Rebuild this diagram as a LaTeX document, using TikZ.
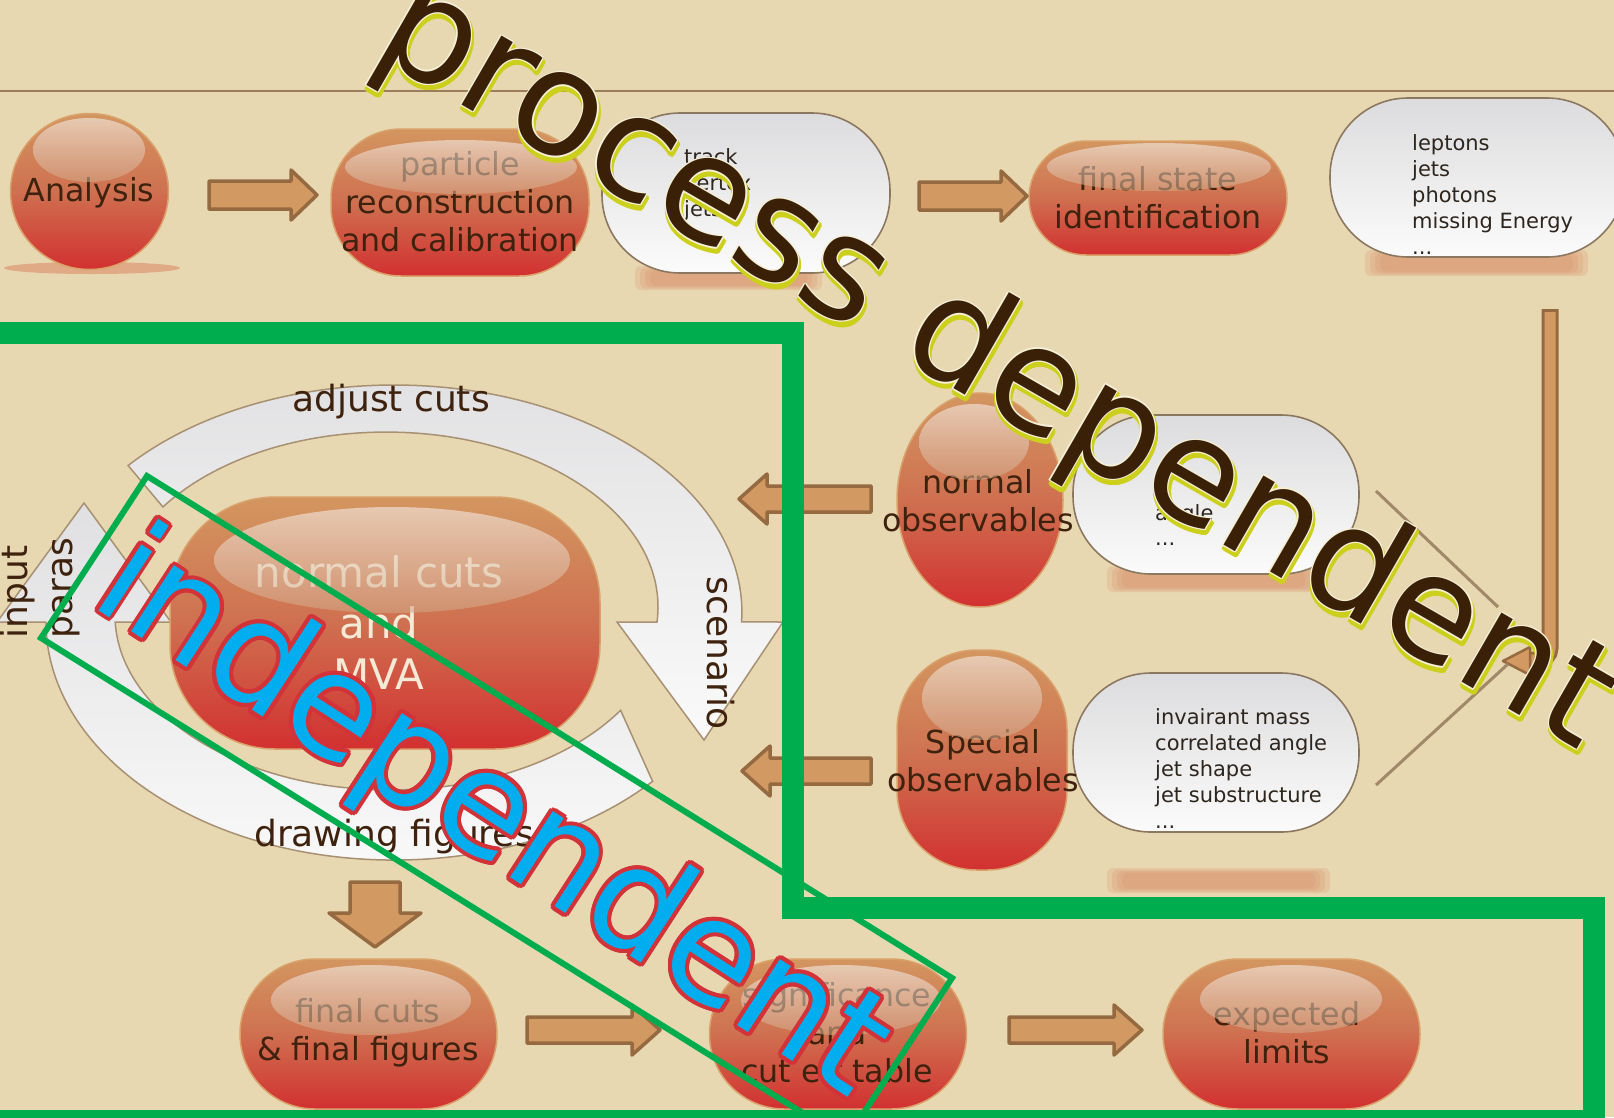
\documentclass[tikz,border=0pt]{standalone}
\usepackage{fontspec}
\setmainfont{DejaVu Sans}
\usetikzlibrary{shapes.geometric,calc}

\definecolor{bg}{RGB}{231,216,178}
\definecolor{rulecol}{RGB}{156,126,90}
\definecolor{nodetop}{RGB}{211,150,96}
\definecolor{nodemid}{RGB}{207,112,80}
\definecolor{nodebot}{RGB}{210,48,48}
\definecolor{nodeedge}{RGB}{218,162,106}
\definecolor{glosstop}{RGB}{246,240,236}
\definecolor{glossbot}{RGB}{210,166,132}
\definecolor{ink}{RGB}{62,34,14}
\definecolor{bubink}{RGB}{46,38,30}
\definecolor{bubtop}{RGB}{220,220,222}
\definecolor{bubbot}{RGB}{251,251,251}
\definecolor{bubedge}{RGB}{140,120,96}
\definecolor{ringtop}{RGB}{224,224,226}
\definecolor{ringbot}{RGB}{250,250,250}
\definecolor{ringedge}{RGB}{168,144,114}
\definecolor{arrfill}{RGB}{210,154,98}
\definecolor{arredge}{RGB}{150,106,64}
\definecolor{lincol}{RGB}{160,136,104}
\definecolor{grn}{RGB}{0,173,78}
\definecolor{shadowcol}{RGB}{218,140,104}
\definecolor{mvaink}{RGB}{244,234,214}
\definecolor{pdink}{RGB}{58,32,6}
\definecolor{pdglow}{RGB}{204,208,28}
\definecolor{pdrim}{RGB}{246,240,214}
\definecolor{indfill}{RGB}{0,174,239}
\definecolor{indedge}{RGB}{210,50,56}

% block arrows: right / left / down
\newcommand{\rightblock}[6]{% xtail xtip yc shafthalf headhalf headlen
  \draw[barrow] (#1,{#3-#4}) -- ({#2-#6},{#3-#4}) -- ({#2-#6},{#3-#5}) -- (#2,#3)
    -- ({#2-#6},{#3+#5}) -- ({#2-#6},{#3+#4}) -- (#1,{#3+#4}) -- cycle;}
\newcommand{\leftblock}[6]{% xtip xtail yc shafthalf headhalf headlen
  \draw[barrow] (#2,{#3-#4}) -- ({#1+#6},{#3-#4}) -- ({#1+#6},{#3-#5}) -- (#1,#3)
    -- ({#1+#6},{#3+#5}) -- ({#1+#6},{#3+#4}) -- (#2,{#3+#4}) -- cycle;}
\newcommand{\downblock}[6]{% xc ytail ytip shafthalf headhalf headlen
  \draw[barrow] ({#1-#4},#2) -- ({#1-#4},{#3-#6}) -- ({#1-#5},{#3-#6}) -- (#1,#3)
    -- ({#1+#5},{#3-#6}) -- ({#1+#4},{#3-#6}) -- ({#1+#4},#2) -- cycle;}
% soft reflection bar under a bubble
\newcommand{\softbar}[4]{%
  \foreach \i in {0,...,3}
    \fill[shadowcol, opacity=0.22, rounded corners=6pt]
      ({#1+5*\i},{#2+1.5*\i}) rectangle ({#3-5*\i},{#4-1.5*\i});}

\begin{document}
\begin{tikzpicture}[x=1pt,y=-1pt,
  redblob/.style={draw=nodeedge, line width=1.5pt, top color=nodetop,
    bottom color=nodebot, middle color=nodemid, inner sep=0pt},
  gloss/.style={top color=glosstop, bottom color=glossbot, fill opacity=0.58},
  bubble/.style={rectangle, draw=bubedge, line width=1.6pt, top color=bubtop,
    bottom color=bubbot, rounded corners=78pt, inner sep=0pt},
  lbl/.style={font=\fontsize{31.7}{38}\selectfont, text=ink, align=center, inner sep=0pt},
  bubtxt/.style={font=\fontsize{21}{25.8}\selectfont, text=bubink, align=left,
    inner sep=0pt, anchor=west},
  ringlbl/.style={font=\fontsize{36}{40}\selectfont, text=ink, inner sep=0pt},
  barrow/.style={fill=arrfill, draw=arredge, line width=3.5pt, line join=round},
  ring/.style={top color=ringtop, bottom color=ringbot, draw=ringedge, line width=1.5pt},
  connline/.style={draw=lincol, line width=3pt},
  bigframe/.style={draw=grn, line width=22pt},
  thinframe/.style={draw=grn, line width=6pt, line join=miter},
  pdtext/.style={font=\fontsize{146}{146}\selectfont, anchor=base west, rotate=-30, inner sep=0pt},
  indtext/.style={font=\fontsize{144}{144}\selectfont, anchor=base west, rotate=-33, inner sep=0pt}]

\useasboundingbox (0,0) rectangle (1614,1117);
\clip (0,0) rectangle (1614,1117);
\fill[bg] (0,0) rectangle (1614,1117);
\draw[rulecol, line width=1.5pt] (0,91) -- (1614,91);

% reflections below the bubbles
\fill[shadowcol, opacity=0.6] (92,268) ellipse [x radius=88, y radius=6];
\softbar{635}{266}{822}{290}
\softbar{1365}{250}{1588}{276}
\softbar{1107}{566}{1320}{592}
\softbar{1107}{868}{1330}{893}

% white bubbles
\node[bubble, minimum width=288pt, minimum height=160pt] (trk) at (746,193) {};
\node[bubtxt] (trkt) at (684,184.5) {track\\vertex\\jets};
\node[bubble, minimum width=295pt, minimum height=159pt] (lep) at (1477.5,177.5) {};
\node[bubtxt] (lept) at (1412,194.5) {leptons\\jets\\photons\\missing Energy\\...};
\node[bubble, minimum width=286pt, minimum height=159pt] (nbub) at (1216,494.5) {};
\node[bubtxt] (nbubt) at (1155,525) {angle\\...};
\node[bubble, minimum width=286pt, minimum height=159pt] (sbub) at (1216,752.5) {};
\node[bubtxt] (sbubt) at (1155,768.5) {invairant mass\\correlated angle\\jet shape\\jet substructure\\...};

% cycle around the cut optimisation
\draw[ring] (128.1,465.5) arc[start angle=220.2, end angle=362.5, x radius=348, y radius=227]
  -- (783,622) -- (704,740) -- (617,622) -- (657,622)
  arc[start angle=364.9, end angle=214.9, x radius=272, y radius=175] -- cycle;
\draw[ring] (652.6,781.3) arc[start angle=42, end angle=180, x radius=348, y radius=238]
  -- (-3,622) -- (84,503) -- (171,622) -- (115.2,622)
  arc[start angle=177.7, end angle=33, x radius=275, y radius=175] -- cycle;
\node[ringlbl] (adj) at (391,402) {adjust cuts};
\node[ringlbl, rotate=-90] (scn) at (721,653) {scenario};
\node[ringlbl, rotate=90] (inp) at (18,592) {input};
\node[ringlbl, rotate=90] (par) at (66,588) {paras};
\node[ringlbl] (drw) at (394,837) {drawing figures};

% red process nodes
\node[redblob, ellipse, minimum width=158pt, minimum height=156pt] (ana) at (89.5,191.5) {};
\node[lbl] (anat) at (89,193) {Analysis};
\path[gloss] (89,150) ellipse [x radius=56, y radius=32];

\node[redblob, rounded corners=70pt, minimum width=258pt, minimum height=147pt] (prc) at (460,202.5) {};
\node[lbl] (prct) at (460,202) {particle\\reconstruction\\and calibration};
\path[gloss] (461,167) ellipse [x radius=116, y radius=27];

\node[redblob, rounded corners=57pt, minimum width=258pt, minimum height=114pt] (fsi) at (1158,198) {};
\node[lbl] (fsit) at (1158,198) {final state\\identification};
\path[gloss] (1159,167) ellipse [x radius=112, y radius=24];

\node[redblob, ellipse, minimum width=166pt, minimum height=214pt] (nob) at (980,500) {};
\node[lbl] (nobt) at (978,501) {normal\\observables};
\path[gloss] (974,442) ellipse [x radius=55, y radius=38];

\node[redblob, rounded corners=80pt, minimum width=170pt, minimum height=220pt] (sob) at (982,760) {};
\node[lbl] (sobt) at (983,761) {Special\\observables};
\path[gloss] (982,698) ellipse [x radius=60, y radius=42];

\node[redblob, rounded corners=105pt, minimum width=430pt, minimum height=252pt] (mva) at (385,623) {};
\node[lbl, text=mvaink, font=\fontsize{42}{51}\selectfont] (mvat) at (379,623) {normal cuts\\and\\MVA};
\path[gloss] (392,560) ellipse [x radius=178, y radius=53];

\node[redblob, rounded corners=75pt, minimum width=257pt, minimum height=150pt] (fcf) at (368.5,1034) {};
\node[lbl] (fcft) at (368,1033) {final cuts\\\& final figures};
\path[gloss] (371,1000) ellipse [x radius=100, y radius=35];

\node[redblob, rounded corners=75pt, minimum width=257pt, minimum height=150pt] (sig) at (838,1034) {};
\node[lbl] (sigt) at (837,1032.5) {significance\\and\\cut eff table};
\path[gloss] (841,1000) ellipse [x radius=100, y radius=35];

\node[redblob, rounded corners=75pt, minimum width=257pt, minimum height=150pt] (lim) at (1291.5,1034) {};
\node[lbl] (limt) at (1287,1033) {expected\\limits};
\path[gloss] (1291,999) ellipse [x radius=91, y radius=34];

% block arrows between the stages
\rightblock{209}{317}{195}{14}{25}{26}
\rightblock{919}{1027}{196}{14}{25}{26}
\leftblock{739}{871}{499}{13}{25}{28}
\leftblock{742}{871}{771}{13}{25}{28}
\downblock{375}{882}{947}{25}{46}{34}
\rightblock{527}{660}{1030}{13}{25}{28}
\rightblock{1009}{1142}{1030}{13}{25}{28}

% feedback arrow on the right and its pointer lines
\draw[arredge, line width=17pt, rounded corners=12pt] (1550,309) -- (1550,660) -- (1528,660);
\draw[arrfill, line width=11pt, rounded corners=12pt] (1550,312) -- (1550,660) -- (1528,660);
\draw[barrow, line width=2.5pt] (1530,647) -- (1503,661) -- (1530,675) -- cycle;
\coordinate (nend) at (1376,491);
\coordinate (send) at (1376,785);
\coordinate (tipA) at (1498,607);
\coordinate (tipB) at (1508,664);
\draw[connline] (nend) -- (tipA);
\draw[connline] (send) -- (tipB);

% region frames
\draw[bigframe] (-20,332.5) -- (792.5,332.5) -- (792.5,907.5) -- (1593.5,907.5)
  -- (1593.5,1121) -- (-20,1121) -- cycle;
\draw[thinframe] (147,476) -- (952,978) -- (846,1140) -- (41,638) -- cycle;

% independent
\coordinate (indpos) at (87,603);
\foreach \a in {0,22.5,...,337.5}
  \node[indtext, text=indedge] at ($(indpos)+(\a:4)$) {independent};
\node[indtext, text=indfill] (ind) at (indpos) {independent};

% process dependent
\coordinate (pdpos) at (370,52);
\foreach \a in {0,30,...,330}
  \node[pdtext, text=pdglow] at ($(pdpos)+(1,4)+(\a:2.5)$) {process dependent};
\foreach \a in {0,45,...,315}
  \node[pdtext, text=pdrim] at ($(pdpos)+(\a:1.3)$) {process dependent};
\node[pdtext, text=pdink] (pd) at (pdpos) {process dependent};

\end{tikzpicture}
\end{document}
